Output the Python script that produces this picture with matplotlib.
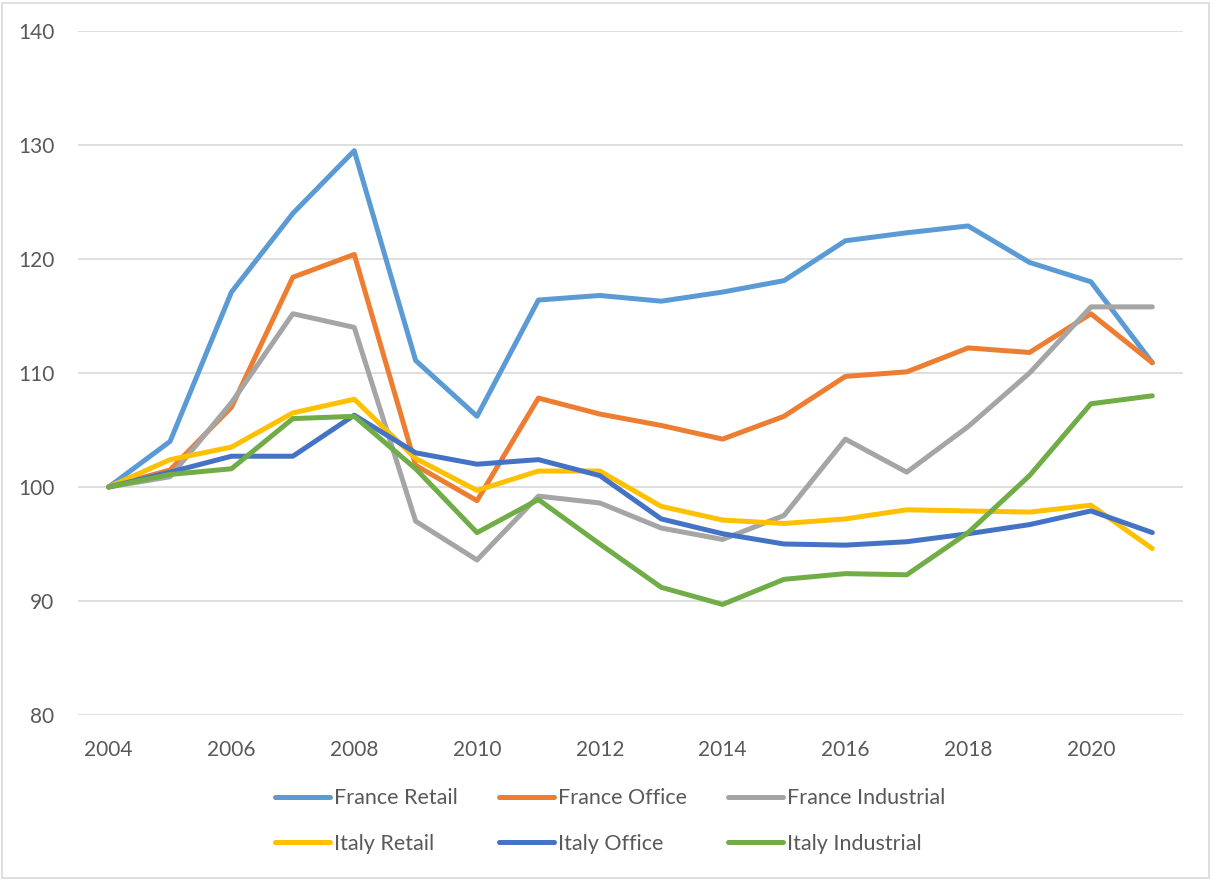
import matplotlib
matplotlib.use("Agg")
import matplotlib.pyplot as plt
from matplotlib.patches import Rectangle

years = list(range(2004, 2022))
france_retail = [100, 104.0, 117.1, 124.0, 129.5, 111.1, 106.2, 116.4, 116.8, 116.3, 117.1, 118.1, 121.6, 122.3, 122.9, 119.7, 118.0, 110.9]
france_office = [100, 101.5, 107.0, 118.4, 120.4, 101.9, 98.8, 107.8, 106.4, 105.4, 104.2, 106.2, 109.7, 110.1, 112.2, 111.8, 115.2, 110.9]
france_industrial = [100, 100.9, 107.4, 115.2, 114.0, 97.0, 93.6, 99.2, 98.6, 96.4, 95.4, 97.5, 104.2, 101.3, 105.3, 110.0, 115.8, 115.8]
italy_retail = [100, 102.4, 103.5, 106.5, 107.7, 102.5, 99.7, 101.4, 101.4, 98.3, 97.1, 96.8, 97.2, 98.0, 97.9, 97.8, 98.4, 94.6]
italy_office = [100, 101.3, 102.7, 102.7, 106.3, 103.0, 102.0, 102.4, 101.0, 97.2, 95.9, 95.0, 94.9, 95.2, 95.9, 96.7, 97.9, 96.0]
italy_industrial = [100, 101.1, 101.6, 106.0, 106.2, 101.6, 96.0, 98.9, 95.0, 91.2, 89.7, 91.9, 92.4, 92.3, 96.0, 101.0, 107.3, 108.0]

series_names = ["France Retail", "France Office", "France Industrial",
                "Italy Retail", "Italy Office", "Italy Industrial"]
series = [france_retail, france_office, france_industrial,
          italy_retail, italy_office, italy_industrial]
colors = ["#5B9BD5", "#ED7D31", "#A5A5A5", "#FFC000", "#4472C4", "#70AD47"]

plt.rcParams['font.family'] = ['Lato', 'DejaVu Sans']
txt = "#595959"

fig = plt.figure(figsize=(12.12, 8.8), dpi=100)
ax = fig.add_axes([78/1212, 1-715/880, (1183-78)/1212, (715-31)/880])

x = list(range(len(years)))
handles = []
for name, vals, c in zip(series_names, series, colors):
    h, = ax.plot(x, vals, color=c, lw=3.6, label=name, solid_capstyle='round', solid_joinstyle='round')
    handles.append(h)

ax.set_xlim(-0.5, len(years) - 0.5)
ax.set_ylim(80, 140)
ax.set_yticks(range(80, 141, 10))
ax.set_xticks(x[::2])
ax.set_xticklabels([str(y) for y in years[::2]])
ax.grid(axis='y', color='#D9D9D9', lw=1.2)
ax.set_axisbelow(True)
for s in ax.spines.values():
    s.set_visible(False)
ax.tick_params(axis='both', length=0, labelsize=15, colors=txt)
ax.tick_params(axis='y', pad=17)
ax.tick_params(axis='x', pad=18)

# row-major order for a 2-row, 3-column legend
order = [0, 3, 1, 4, 2, 5]
leg = fig.legend(handles=[handles[i] for i in order], loc='center', ncol=3, frameon=False,
                 bbox_to_anchor=(610/1212, 1-821/880), fontsize=15.5,
                 handlelength=2.55, handletextpad=0.2, columnspacing=1.9,
                 labelspacing=1.2, labelcolor=txt)
for lh in leg.get_lines():
    lh.set_solid_capstyle('round')

fig.patches.append(Rectangle((2/1212, 2/880), 1207/1212, 875/880, transform=fig.transFigure,
                             fill=False, edgecolor='#D9D9D9', lw=1.2))

fig.savefig("out.png", dpi=100)
